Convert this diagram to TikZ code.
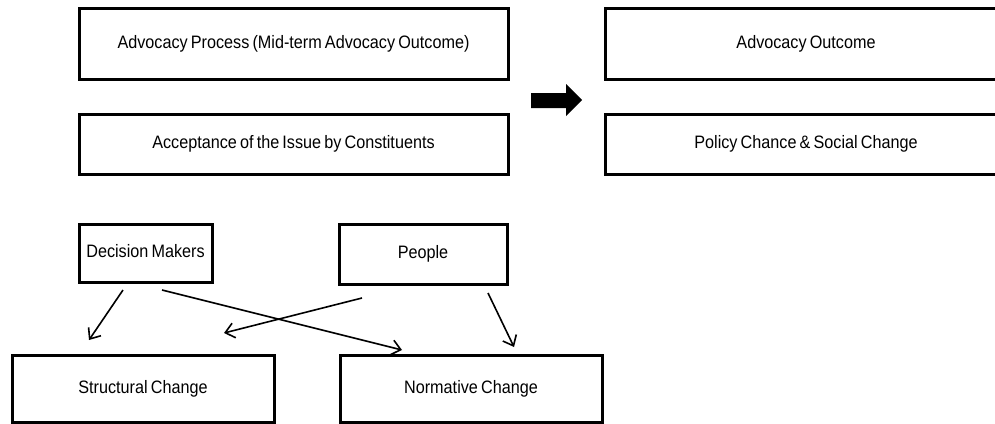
\documentclass[tikz,border=0pt]{standalone}
\usepackage{fontspec}
\setmainfont[FakeStretch=0.9,WordSpace=0.7]{Liberation Sans}
\usetikzlibrary{arrows.meta}
\begin{document}
\begin{tikzpicture}[x=1pt,y=-1pt,
  box/.style={draw, line width=3pt, inner sep=0pt, align=center,
              text height=13pt, text depth=3.5pt,
              font=\fontsize{18}{20}\selectfont},
  conn/.style={line width=1.6pt,
               -{Straight Barb[length=9pt,width=15pt,line width=1.6pt]}}]
\useasboundingbox (0,0) rectangle (995,423);
\clip (0,0) rectangle (995,423);
\fill[white] (0,0) rectangle (995,423);

\node[box, minimum width=429pt, minimum height=71pt] (ap)  at (293.5,43.5) {Advocacy Process (Mid-term Advocacy Outcome)};
\node[box, minimum width=429pt, minimum height=60pt] (acc) at (293.5,144)  {Acceptance of the Issue by Constituents};
\node[box, minimum width=402pt, minimum height=71pt] (ao)  at (806,43.5)   {Advocacy Outcome};
\node[box, minimum width=402pt, minimum height=60pt] (pc)  at (806,144)    {Policy Chance \& Social Change};
\node[box, minimum width=133pt, minimum height=58pt] (dm)  at (145.5,253)  {Decision Makers};
\node[box, minimum width=168pt, minimum height=60pt] (pe)  at (423,254)    {People};
\node[box, minimum width=262pt, minimum height=67pt] (sc)  at (143,388.5)  {Structural Change};
\node[box, minimum width=262pt, minimum height=67pt] (nc)  at (471,388.5)  {Normative Change};

% block arrow
\fill (531,93) -- (566,93) -- (566,84) -- (582,100) -- (566,116) -- (566,108) -- (531,108) -- cycle;

% connector end points
\coordinate (dmA) at (123,290);
\coordinate (dmB) at (162,290);
\coordinate (peA) at (362,298);
\coordinate (peB) at (488,293);
\coordinate (scA) at (89,340);
\coordinate (scB) at (224,333);
\coordinate (ncA) at (402,350);
\coordinate (ncB) at (514,347);

\draw[conn] (dmA) -- (scA);
\draw[conn] (dmB) -- (ncA);
\draw[conn] (peA) -- (scB);
\draw[conn] (peB) -- (ncB);
\end{tikzpicture}
\end{document}
